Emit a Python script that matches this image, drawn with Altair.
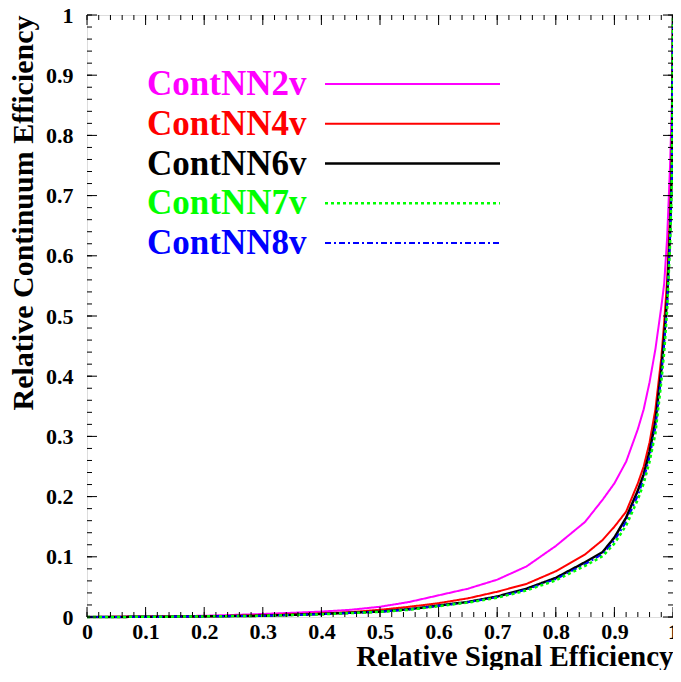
import altair as alt
import pandas as pd

# ---- data ----
sig_eff = [0.0, 0.1, 0.2, 0.3, 0.4, 0.45, 0.5, 0.55, 0.6, 0.65, 0.7, 0.75, 0.8,
           0.85, 0.88, 0.9, 0.92, 0.94, 0.95, 0.96, 0.97, 0.98, 0.985, 0.99,
           0.995, 0.998, 1.0]
cont_nn2v = [0.0, 0.001, 0.002, 0.005, 0.009, 0.012, 0.017, 0.025, 0.036, 0.047,
             0.062, 0.084, 0.118, 0.158, 0.195, 0.222, 0.258, 0.312, 0.345, 0.39,
             0.445, 0.515, 0.554, 0.63, 0.75, 0.85, 1.0]
cont_nn4v = [0.0, 0.0005, 0.001, 0.003, 0.006, 0.008, 0.012, 0.017, 0.023, 0.031,
             0.042, 0.055, 0.076, 0.104, 0.128, 0.150, 0.175, 0.222, 0.25, 0.29,
             0.345, 0.43, 0.49, 0.56, 0.67, 0.77, 1.0]
cont_nn6v = [0.0, 0.0003, 0.001, 0.002, 0.005, 0.007, 0.009, 0.013, 0.019, 0.025,
             0.034, 0.047, 0.065, 0.091, 0.108, 0.132, 0.165, 0.21, 0.237, 0.275,
             0.325, 0.41, 0.466, 0.53, 0.64, 0.74, 1.0]
cont_nn7v = [0.0, 0.0003, 0.001, 0.002, 0.0045, 0.0065, 0.0085, 0.012, 0.018, 0.024,
             0.032, 0.044, 0.061, 0.085, 0.101, 0.122, 0.152, 0.195, 0.222, 0.258,
             0.305, 0.39, 0.44, 0.51, 0.62, 0.72, 1.0]
cont_nn8v = [0.0, 0.0003, 0.001, 0.002, 0.0047, 0.0067, 0.0087, 0.0125, 0.0185, 0.0245,
             0.033, 0.0455, 0.063, 0.088, 0.1045, 0.127, 0.158, 0.202, 0.229, 0.266,
             0.315, 0.40, 0.455, 0.52, 0.63, 0.73, 1.0]

series_names = ["ContNN2v", "ContNN4v", "ContNN6v", "ContNN7v", "ContNN8v"]
series_values = [cont_nn2v, cont_nn4v, cont_nn6v, cont_nn7v, cont_nn8v]

major_ticks = [0.0, 0.1, 0.2, 0.3, 0.4, 0.5, 0.6, 0.7, 0.8, 0.9, 1.0]
minor_ticks = [round(i * 0.02, 2) for i in range(51)]

# ---- styles ----
colors = {"ContNN2v": "#ff00ff", "ContNN4v": "#ff0000", "ContNN6v": "#000000",
          "ContNN7v": "#00ff00", "ContNN8v": "#0000ff"}
dashes = {"ContNN2v": [1, 0], "ContNN4v": [1, 0], "ContNN6v": [1, 0],
          "ContNN7v": [3, 3], "ContNN8v": [6, 3, 2, 3]}
widths = {"ContNN2v": 2, "ContNN4v": 2, "ContNN6v": 2.5, "ContNN7v": 2.5, "ContNN8v": 2}
draw_order = ["ContNN2v", "ContNN4v", "ContNN6v", "ContNN8v", "ContNN7v"]

FONT = "Liberation Serif"
W, H = 586, 602

rows = []
for name, vals in zip(series_names, series_values):
    for xv, yv in zip(sig_eff, vals):
        rows.append({"series": name, "sig": xv, "cont": yv})
df = pd.DataFrame(rows)

xs = alt.Scale(domain=[0, 1], nice=False, zero=False)
ys = alt.Scale(domain=[0, 1], nice=False, zero=False)

xax = alt.Axis(values=major_ticks, format="~g", ticks=False, domain=False, grid=False,
               labelFont=FONT, labelFontWeight="bold", labelFontSize=22, labelColor="black",
               labelPadding=4, labelFlush=False, labelOverlap=False,
               title="Relative Signal Efficiency", titleFont=FONT, titleFontWeight="bold",
               titleFontSize=29, titleColor="black", titleAnchor="end", titleAlign="right",
               titleBaseline="alphabetic", titleX=W, titleY=48)
yax = alt.Axis(values=major_ticks, format="~g", ticks=False, domain=False, grid=False,
               labelFont=FONT, labelFontWeight="bold", labelFontSize=22, labelColor="black",
               labelPadding=14, labelFlush=False, labelOverlap=False,
               title="Relative Continuum Efficiency", titleFont=FONT, titleFontWeight="bold",
               titleFontSize=30, titleColor="black", titleAnchor="end", titlePadding=7)

layers = []

# curves
for name in draw_order:
    layers.append(
        alt.Chart(df).transform_filter(alt.datum.series == name)
        .mark_line(color=colors[name], strokeDash=dashes[name], strokeWidth=widths[name])
        .encode(x=alt.X("sig:Q", scale=xs, axis=xax),
                y=alt.Y("cont:Q", scale=ys, axis=yax),
                order="sig:Q")
    )

# inward ticks on all four sides
for vals, length in [(major_ticks, 10), (minor_ticks, 5)]:
    tdf = pd.DataFrame({"t": vals})
    layers.append(alt.Chart(tdf).mark_rule(color="black", strokeWidth=1).encode(
        x=alt.X("t:Q", scale=xs, axis=xax), y=alt.value(H), y2=alt.value(H - length)))
    layers.append(alt.Chart(tdf).mark_rule(color="black", strokeWidth=1).encode(
        x=alt.X("t:Q", scale=xs, axis=xax), y=alt.value(0), y2=alt.value(length)))
    layers.append(alt.Chart(tdf).mark_rule(color="black", strokeWidth=1).encode(
        y=alt.Y("t:Q", scale=ys, axis=yax), x=alt.value(0), x2=alt.value(length)))
    layers.append(alt.Chart(tdf).mark_rule(color="black", strokeWidth=1).encode(
        y=alt.Y("t:Q", scale=ys, axis=yax), x=alt.value(W), x2=alt.value(W - length)))

# legend (text on the left, line sample on the right)
leg_top, leg_step = 69, 39.75
for i, name in enumerate(series_names):
    ypix = leg_top + i * leg_step
    layers.append(
        alt.Chart(pd.DataFrame({"name": [name]}))
        .mark_text(align="left", baseline="alphabetic", font=FONT, fontWeight="bold",
                   fontSize=35, color=colors[name])
        .encode(text="name:N", x=alt.value(60), y=alt.value(ypix + 11))
    )
    layers.append(
        alt.Chart(pd.DataFrame({"name": [name]}))
        .mark_rule(color=colors[name], strokeDash=dashes[name], strokeWidth=widths[name])
        .encode(x=alt.value(238), x2=alt.value(413), y=alt.value(ypix))
    )

chart = alt.layer(*layers).properties(
    width=W, height=H,
    padding={"left": 79, "top": 7, "right": 0, "bottom": 53},
    autosize=alt.AutoSizeParams(type="none"),
).configure_view(stroke="black", strokeWidth=2).configure(background="white")

chart.save("out.html", embed_options={"renderer": "svg", "actions": False})
